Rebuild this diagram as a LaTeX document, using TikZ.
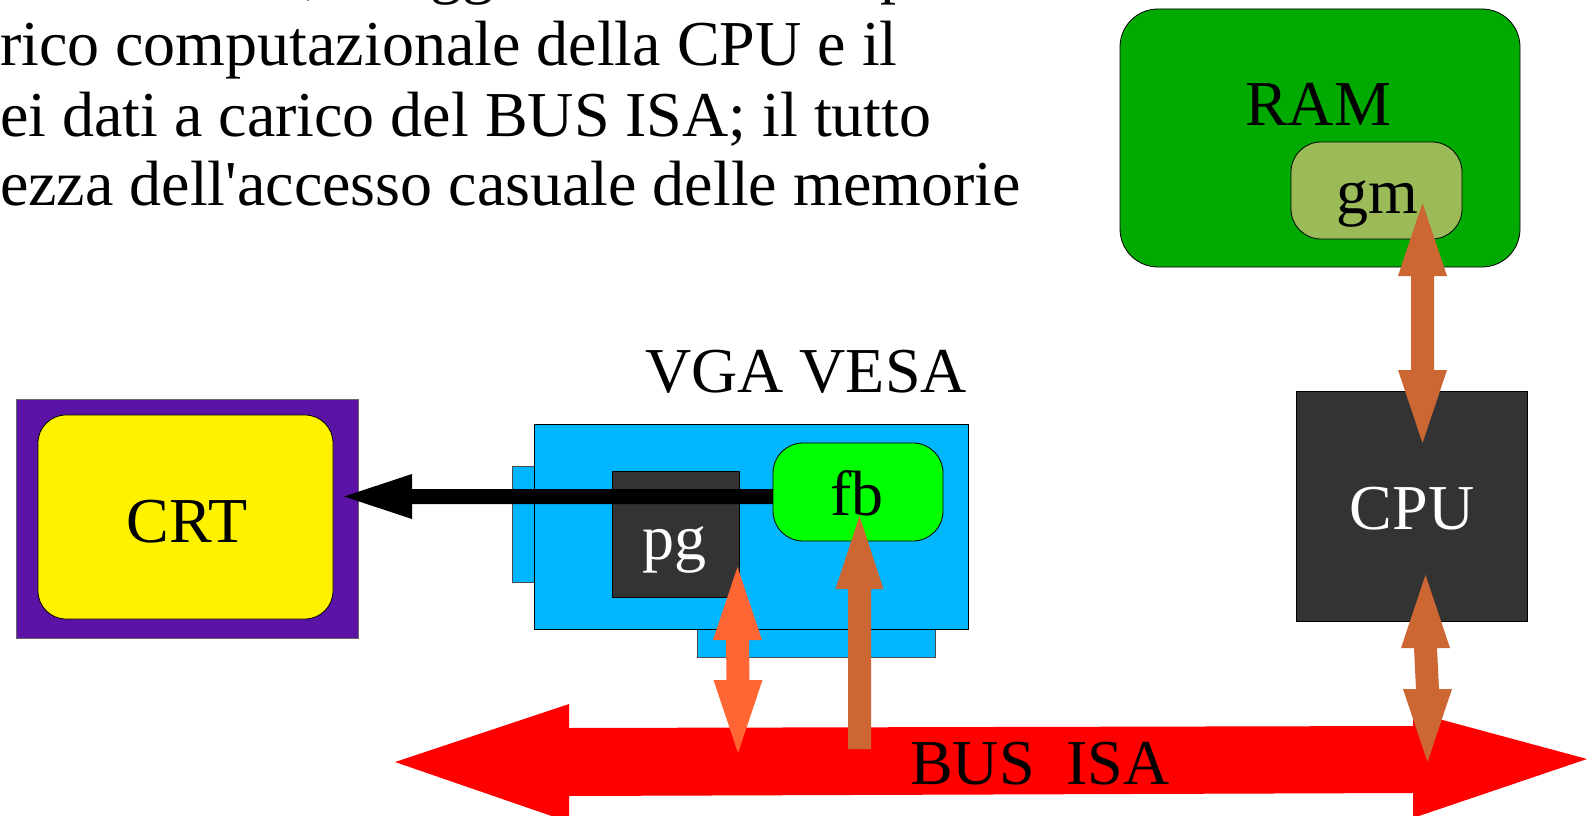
\documentclass[tikz,border=0pt]{standalone}
\usepackage{fontspec}
\newfontfamily\tnr{Liberation Serif}
\usetikzlibrary{calc}
\definecolor{crtpurple}{RGB}{91,19,166}
\definecolor{vgablue}{RGB}{0,183,255}
\definecolor{chipgray}{RGB}{51,51,51}
\definecolor{fbgreen}{RGB}{0,255,0}
\definecolor{ramgreen}{RGB}{0,170,0}
\definecolor{gmgreen}{RGB}{155,187,89}
\definecolor{pgorange}{RGB}{255,102,51}
\definecolor{busbrown}{RGB}{204,102,51}
\definecolor{busred}{RGB}{255,0,0}
\newcommand{\dblvarrow}[3]{%
  \fill[#1] (#2) -- ($(#2)+(24.5,73)$) -- ($(#2)+(11.5,73)$) -- ($(#3)+(11.5,-73)$) -- ($(#3)+(24.5,-73)$) -- (#3) -- ($(#3)+(-24.5,-73)$) -- ($(#3)+(-11.5,-73)$) -- ($(#2)+(-11.5,73)$) -- ($(#2)+(-24.5,73)$) -- cycle;}
\begin{document}
\begin{tikzpicture}[x=1pt,y=-1pt,
  txt/.style={font=\tnr\fontsize{64}{70}\selectfont, inner sep=0pt, outer sep=0pt, anchor=base},
  para/.style={txt, anchor=base west},
  box/.style={draw=black, line width=0.8pt, inner sep=0pt, outer sep=0pt, rectangle}]
\useasboundingbox (0,0) rectangle (1591,816);
\clip (0,0) rectangle (1591,816);
\fill[white] (0,0) rectangle (1591,816);

% paragraph text (cropped)
\node[para] (l0) at (-30,-8) {Così facendo, alleggerendo tanto il peso del};
\node[para] (l1) at (0,66) {rico computazionale della CPU e il};
\node[para] (l2) at (0,136) {ei dati a carico del BUS ISA; il tutto};
\node[para] (l3) at (0,205) {ezza dell'accesso casuale delle memorie};

% CRT
\node[box, draw=black!60, fill=crtpurple, minimum width=342pt, minimum height=239pt] (crtbox) at (187,518.5) {};
\node[box, fill=yellow, rounded corners=28pt, minimum width=295pt, minimum height=204pt] (crtscreen) at (185.5,517) {};

% VGA card
\node[box, draw=black!70, fill=vgablue, minimum width=48pt, minimum height=116pt] (vgaleft) at (536,524) {};
\node[box, draw=black!70, fill=vgablue, minimum width=238pt, minimum height=57pt] (vgabottom) at (816,628.5) {};
\node[box, fill=vgablue, minimum width=434pt, minimum height=205pt] (vga) at (751,526.5) {};
\node[box, fill=chipgray, minimum width=127pt, minimum height=126pt] (pg) at (675.5,534) {};

% black arrow fb -> CRT
\coordinate (crtin) at (344,496.5);
\coordinate (fbout) at (800,496.5);
\fill[black] (crtin) -- ($(crtin)+(68,-22.5)$) -- ($(crtin)+(68,-7.5)$) -- ($(fbout)+(0,-7.5)$) -- ($(fbout)+(0,7.5)$) -- ($(crtin)+(68,7.5)$) -- ($(crtin)+(68,22.5)$) -- cycle;

\node[box, fill=fbgreen, rounded corners=30pt, minimum width=170pt, minimum height=98pt] (fb) at (858,492) {};

% RAM and CPU
\node[box, fill=ramgreen, rounded corners=38pt, minimum width=400pt, minimum height=258pt] (ram) at (1320,138) {};
\node[box, fill=gmgreen, rounded corners=30pt, minimum width=171pt, minimum height=97pt] (gm) at (1376.5,190.5) {};
\node[box, fill=chipgray, minimum width=231pt, minimum height=230pt] (cpu) at (1411.5,506) {};

% BUS ISA
\coordinate (busleft) at (395,762);
\coordinate (busright) at (1587,759);
\fill[busred] (busleft) -- (569,704) -- (569,728) -- (1413,726) -- (1413,712) -- (busright) -- (1413,818) -- (1413,793) -- (569,796) -- (569,822) -- cycle;

% labels
\node[txt] (crtlabel) at (187,542) {CRT};
\node[txt] (vgalabel) at (806,392) {VGA VESA};
\node[txt, text=white] (pglabel) at (674,559) {pg};
\node[txt] (fblabel) at (857,515) {fb};
\node[txt] (ramlabel) at (1318,125) {RAM};
\node[txt] (gmlabel) at (1377,213) {gm};
\node[txt, text=white] (cpulabel) at (1412,529) {CPU};
\node[txt] (buslabel) at (1040,784) {BUS\hspace{0.5em}ISA};

% vertical block arrows
\coordinate (pgtip) at (737.5,567);
\coordinate (pgbus) at (738,753);
\dblvarrow{pgorange}{pgtip}{pgbus}

\coordinate (fbtip) at (859.5,516);
\coordinate (fbbus) at (859.5,749);
\fill[busbrown] (fbtip) -- ($(fbtip)+(24,73)$) -- ($(fbtip)+(11.5,73)$) -- ($(fbbus)+(11.5,0)$) -- ($(fbbus)+(-11.5,0)$) -- ($(fbtip)+(-11.5,73)$) -- ($(fbtip)+(-24,73)$) -- cycle;

\coordinate (gmtip) at (1422.5,203);
\coordinate (cputop) at (1422.5,443);
\dblvarrow{busbrown}{gmtip}{cputop}

\coordinate (cpubot) at (1425.5,575);
\coordinate (cpubus) at (1427.5,762);
\dblvarrow{busbrown}{cpubot}{cpubus}
\end{tikzpicture}
\end{document}
